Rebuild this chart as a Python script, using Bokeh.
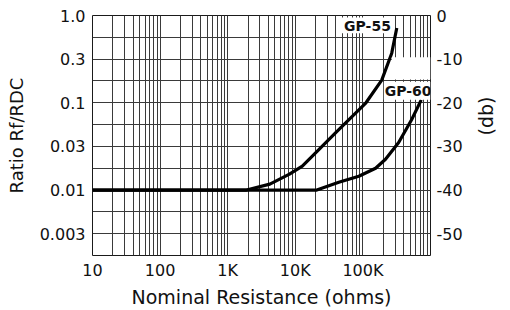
import math
from bokeh.plotting import figure
from bokeh.models import (Range1d, LinearAxis, LinearScale, FixedTicker, Grid, Label, BoxAnnotation)
from bokeh.embed import file_html
from bokeh.resources import INLINE

# ---- data ----
gp55_ohms = [10, 1900, 4200, 8200, 12700, 21000, 40000, 111000, 190000, 267000, 317000]
gp55_ratio = [0.01, 0.01, 0.0117, 0.0152, 0.0188, 0.0278, 0.0457, 0.100, 0.182, 0.37, 0.72]
gp60_ohms = [10, 20800, 44000, 87000, 154000, 216000, 338000, 525000, 730000]
gp60_ratio = [0.01, 0.01, 0.0123, 0.0144, 0.0178, 0.0225, 0.035, 0.064, 0.108]

x_ticks = [10, 100, 1000, 10000, 100000]
x_tick_labels = ["10", "100", "1K", "10K", "100K"]
db_ticks = [0, -10, -20, -30, -40, -50]
ratio_tick_labels = ["1.0", "0.3", "0.1", "0.03", "0.01", "0.003"]
db_tick_labels = ["0", "-10", "-20", "-30", "-40", "-50"]
db_grid = list(range(0, -60, -5))
series_names = ["GP-55", "GP-60"]

FONT = "DejaVu Sans"
INK = "#111111"
GRID = "#3a3a3a"

W, H = 510, 310
y_lo = 10 ** (-55 / 20)
p = figure(width=W, height=H, x_axis_type="log", y_axis_type="log",
           x_range=Range1d(10, 1e6), y_range=Range1d(y_lo, 1.0),
           extra_y_ranges={"db": Range1d(-55, 0)},
           extra_y_scales={"db": LinearScale()},
           y_axis_location=None,
           output_backend="svg", toolbar_location=None,
           min_border_left=92, min_border_right=W - 433,
           min_border_top=15, min_border_bottom=H - 257)
p.background_fill_color = "white"
p.border_fill_color = "white"
p.outline_line_color = "#1a1a1a"
p.outline_line_width = 1

# grids
x_grid = [m * 10 ** k for k in range(1, 6) for m in range(1, 10)] + [1e6]
for g in p.grid:
    g.visible = False
p.add_layout(Grid(dimension=0, ticker=FixedTicker(ticks=x_grid),
                  grid_line_color=GRID, grid_line_width=1))
p.add_layout(Grid(dimension=1, ticker=FixedTicker(ticks=[10 ** (d / 20) for d in db_grid]),
                  grid_line_color=GRID, grid_line_width=1))

def style_axis(ax, label_size):
    ax.axis_line_color = None
    ax.major_tick_line_color = None
    ax.minor_tick_line_color = None
    ax.major_tick_out = 0
    ax.major_tick_in = 0
    ax.minor_tick_out = 0
    ax.minor_tick_in = 0
    ax.major_label_text_font = FONT
    ax.major_label_text_font_size = "16px"
    ax.major_label_text_color = INK
    ax.major_label_text_line_height = 1.0
    ax.axis_label_text_font = FONT
    ax.axis_label_text_font_size = label_size
    ax.axis_label_text_font_style = "normal"
    ax.axis_label_text_color = INK
    ax.axis_label_text_line_height = 1.0

# x axis
xa = p.xaxis[0]
xa.ticker = FixedTicker(ticks=x_ticks)
xa.major_label_overrides = dict(zip(x_ticks, x_tick_labels))
xa.axis_label = "Nominal Resistance (ohms)"
style_axis(xa, "19px")
xa.major_label_standoff = 5
xa.axis_label_standoff = 3

# left axis (ratio labels on the dB scale)
left = LinearAxis(y_range_name="db", ticker=FixedTicker(ticks=db_ticks),
                  major_label_overrides=dict(zip(db_ticks, ratio_tick_labels)),
                  axis_label="Ratio Rf/RDC")
style_axis(left, "18px")
left.major_label_standoff = 7
left.axis_label_standoff = 10
p.add_layout(left, "left")

# right axis (db)
right = LinearAxis(y_range_name="db", ticker=FixedTicker(ticks=db_ticks),
                   major_label_overrides=dict(zip(db_ticks, db_tick_labels)),
                   axis_label="(db)")
style_axis(right, "19px")
right.major_label_standoff = 6
right.axis_label_standoff = 20
if "axis_label_orientation" in right.properties():
    right.axis_label_orientation = math.pi / 2
p.add_layout(right, "right")

# curves
p.line(gp55_ohms, gp55_ratio, line_color="black", line_width=3.2, line_join="round")
p.line(gp60_ohms, gp60_ratio, line_color="black", line_width=3.2, line_join="round")

# white label boxes
for l, r, b, t in [(44400, 267000, 0.624, 0.95),
                   (267000, 1e6, 0.185, 0.333),
                   (204000, 1e6, 0.108, 0.174)]:
    p.add_layout(BoxAnnotation(left=l, right=r, bottom=b, top=t,
                               fill_color="white", fill_alpha=1.0, line_color=None))

for name, x, y in zip(series_names, [117000, 467000], [0.75, 0.135]):
    p.add_layout(Label(x=x, y=y, text=name, text_align="center", text_baseline="middle",
                       text_font=FONT, text_font_style="bold", text_font_size="14px",
                       text_color=INK))

open("out.html", "w").write(file_html(p, INLINE))
